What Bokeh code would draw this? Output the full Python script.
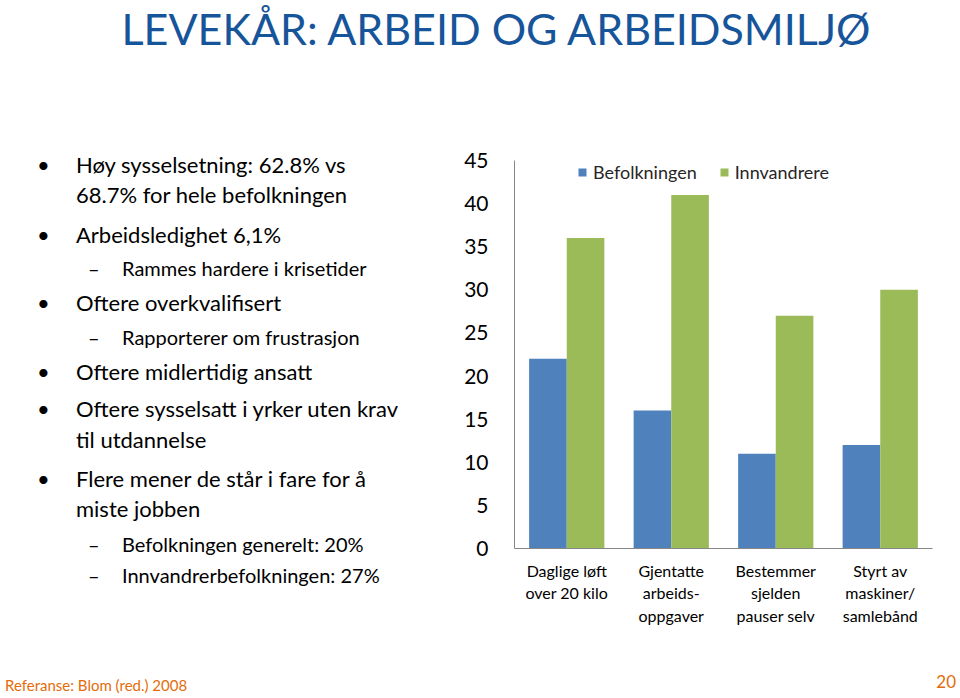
from bokeh.plotting import figure
from bokeh.layouts import column, row
from bokeh.models import Range1d, Legend, LegendItem, ColumnDataSource, FactorRange, Div
from bokeh.transform import dodge
from bokeh.embed import file_html
from bokeh.resources import INLINE

# ---------------- data ----------------
categories = ["Daglige løft\nover 20 kilo", "Gjentatte\narbeids-\noppgaver",
              "Bestemmer\nsjelden\npauser selv", "Styrt av\nmaskiner/\nsamlebånd"]
befolkningen = [22, 16, 11, 12]
innvandrere = [36, 41, 27, 30]
series_names = ["Befolkningen", "Innvandrere"]
y_ticks = [0, 5, 10, 15, 20, 25, 30, 35, 40, 45]

title_text = "LEVEKÅR: ARBEID OG ARBEIDSMILJØ"
bullet_texts = [
    (0, "Høy sysselsetning: 62.8% vs"),
    (None, "68.7% for hele befolkningen"),
    (0, "Arbeidsledighet 6,1%"),
    (1, "Rammes hardere i krisetider"),
    (0, "Oftere overkvalifisert"),
    (1, "Rapporterer om frustrasjon"),
    (0, "Oftere midlertidig ansatt"),
    (0, "Oftere sysselsatt i yrker uten krav"),
    (None, "til utdannelse"),
    (0, "Flere mener de står i fare for å"),
    (None, "miste jobben"),
    (1, "Befolkningen generelt: 20%"),
    (1, "Innvandrerbefolkningen: 27%"),
]
footer_text = "Referanse:  Blom (red.) 2008"
page_number = "20"

# ---------------- layout (page pixels) ----------------
W = 960
TOP_H, MID_H, FOOT_H = 68, 560, 70
LEFT_W = 448
CHART_W = W - LEFT_W
FONT = "Lato"


def span(x, yc, text, size, color="black", align="left", width=None):
    top = yc - 0.53 * size
    if align == "center":
        pos = f"left:{x - width / 2}px;width:{width}px;text-align:center;"
    elif align == "right":
        pos = f"left:{x - width}px;width:{width}px;text-align:right;"
    else:
        pos = f"left:{x}px;"
    return (f'<div style="position:absolute;{pos}top:{top:.1f}px;font-family:{FONT};'
            f'font-size:{size}px;line-height:1;white-space:nowrap;color:{color};">{text}</div>')


def box(w, h, inner):
    html = (f'<div style="position:relative;width:{w}px;height:{h}px;overflow:visible;'
            f'background:white;">{inner}</div>')
    return Div(text=html, width=w, height=h, margin=0)


# title
title_div = box(W, TOP_H, span(496, 30, title_text, 43, color="#17559A",
                                align="center", width=1000))

# bullets (vertical cap centres in page px)
line_y = [166, 196, 236, 269, 304, 338, 373, 410, 441, 480, 510, 545, 576]
parts = []
for (lvl, txt), y in zip(bullet_texts, line_y):
    yy = y - TOP_H
    if lvl == 1:
        parts.append(span(88, yy, "–", 20))
        parts.append(span(122, yy, txt, 20))
    else:
        if lvl == 0:
            parts.append(span(37, yy, "•", 22))
        parts.append(span(76, yy, txt, 22))
left_div = box(LEFT_W, MID_H, "".join(parts))

# chart
src = ColumnDataSource(dict(cat=categories, bef=befolkningen, inn=innvandrere))
p = figure(x_range=FactorRange(*categories), y_range=Range1d(0, 45),
           width=CHART_W, height=MID_H, output_backend="svg", toolbar_location=None,
           min_border_left=66, min_border_right=28, min_border_top=92, min_border_bottom=78)
p.background_fill_color = "white"
p.border_fill_color = "white"
p.outline_line_color = None
p.xgrid.visible = False
p.ygrid.visible = False

r1 = p.vbar(x=dodge("cat", -0.18, range=p.x_range), top="bef", width=0.36, source=src,
            fill_color="#4F81BD", line_color=None)
r2 = p.vbar(x=dodge("cat", 0.18, range=p.x_range), top="inn", width=0.36, source=src,
            fill_color="#9BBB59", line_color=None)

ya = p.yaxis[0]
ya.ticker = y_ticks
ya.major_tick_line_color = None
ya.minor_tick_line_color = None
ya.axis_line_color = "#868686"
ya.major_label_text_font = FONT
ya.major_label_text_font_size = "21px"
ya.major_label_text_color = "black"
ya.major_label_standoff = 20

xa = p.xaxis[0]
xa.major_tick_line_color = None
xa.minor_tick_line_color = None
xa.axis_line_color = "#868686"
xa.major_label_text_font = FONT
xa.major_label_text_font_size = "16px"
xa.major_label_text_color = "black"
xa.major_label_standoff = 6

legend = Legend(items=[LegendItem(label=series_names[0], renderers=[r1]),
                       LegendItem(label=series_names[1], renderers=[r2])],
                orientation="horizontal", location=(63, 365))
legend.padding = 0
legend.margin = 0
legend.border_line_color = None
legend.background_fill_alpha = 0
legend.glyph_width = 10
legend.glyph_height = 10
legend.label_height = 22
legend.label_standoff = 6
legend.spacing = 22
legend.label_text_font = FONT
legend.label_text_font_size = "18px"
legend.label_text_color = "#262626"
p.add_layout(legend)

# footer
foot = (span(5, 686 - TOP_H - MID_H, footer_text, 15, color="#E46C0A")
        + span(956, 682 - TOP_H - MID_H, page_number, 17, color="#E46C0A",
               align="right", width=60))
footer_div = box(W, FOOT_H, foot)

layout = column(title_div, row(left_div, p, spacing=0), footer_div, spacing=0)
open("out.html", "w").write(file_html(layout, INLINE))
